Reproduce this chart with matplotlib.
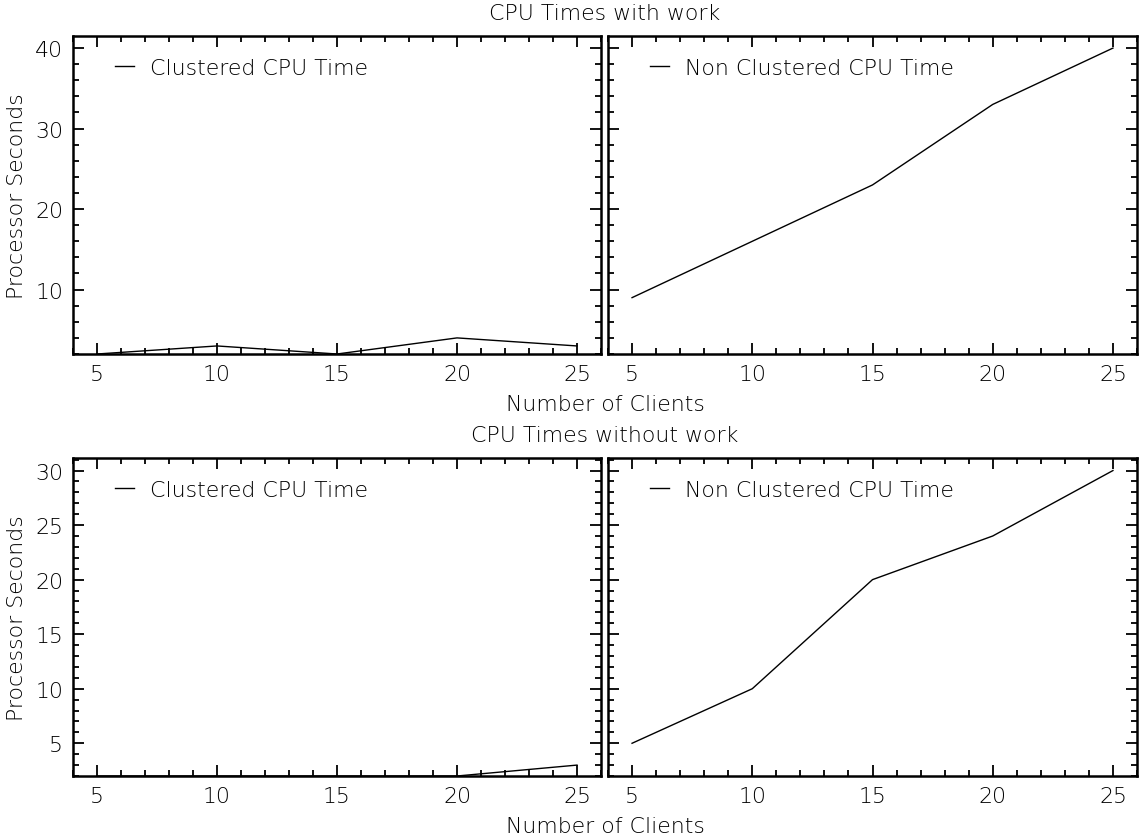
import matplotlib
matplotlib.use("Agg")
import matplotlib.pyplot as plt
from matplotlib.ticker import MultipleLocator

plt.rcParams['font.family'] = ['DejaVu Sans']

clients = [5, 10, 15, 20, 25]
clustered_work = [2, 3, 2, 4, 3]
nonclustered_work = [9, 16, 23, 33, 40]
clustered_nowork = [2, 2, 2, 2, 3]
nonclustered_nowork = [5, 10, 20, 24, 30]

title_top = "CPU Times with work"
title_bottom = "CPU Times without work"
xlabel = "Number of Clients"
ylabel = "Processor Seconds"
label_c = "Clustered CPU Time"
label_n = "Non Clustered CPU Time"

FS = 15.8
W, H = 1139, 837
fig = plt.figure(figsize=(W / 100, H / 100), dpi=100)

def px_axes(x0, x1, y0, y1):
    return fig.add_axes([x0 / W, 1 - y1 / H, (x1 - x0) / W, (y1 - y0) / H])

rows = [
    (37, 355, clustered_work, nonclustered_work, (2, 41.5), 10, 2, title_top),
    (459, 777, clustered_nowork, nonclustered_nowork, (2, 31.15), 5, 1, title_bottom),
]

for (y0, y1, cdata, ndata, ylim, ymaj, ymin, title) in rows:
    axl = px_axes(73, 601, y0, y1)
    axr = px_axes(608, 1137, y0, y1)
    for ax, data, lab, showy in ((axl, cdata, label_c, True), (axr, ndata, label_n, False)):
        ax.plot(clients, data, color='black', lw=1.0, label=lab)
        ax.set_xlim(4, 26)
        ax.set_ylim(*ylim)
        ax.xaxis.set_major_locator(MultipleLocator(5))
        ax.xaxis.set_minor_locator(MultipleLocator(1))
        ax.yaxis.set_major_locator(MultipleLocator(ymaj))
        ax.yaxis.set_minor_locator(MultipleLocator(ymin))
        ax.tick_params(which='both', direction='in', top=True, right=True,
                       width=1.3, labelsize=FS, colors='black')
        ax.tick_params(which='major', length=8, pad=7)
        ax.tick_params(which='minor', length=4)
        if not showy:
            ax.tick_params(axis='y', labelleft=False)
        else:
            ax.set_ylabel(ylabel, fontsize=FS, fontweight='light')
        for s in ax.spines.values():
            s.set_linewidth(1.8)
        for t in ax.get_xticklabels() + ax.get_yticklabels():
            t.set_fontweight('light')
        ax.legend(loc='center left', bbox_to_anchor=(42 / 528, 0.9), frameon=False,
                  borderpad=0, borderaxespad=0, handlelength=0.85, handletextpad=0.75,
                  prop={'size': FS, 'weight': 'light'})
    axl.yaxis.set_label_coords(-0.087, 0.5)
    fig.text(605 / W, 1 - (y0 - 23) / H, title, ha='center', va='center',
             fontsize=FS, fontweight='light')
    fig.text(605 / W, 1 - (y1 + 50) / H, xlabel, ha='center', va='center',
             fontsize=FS, fontweight='light')

fig.savefig("out.png", dpi=100)
